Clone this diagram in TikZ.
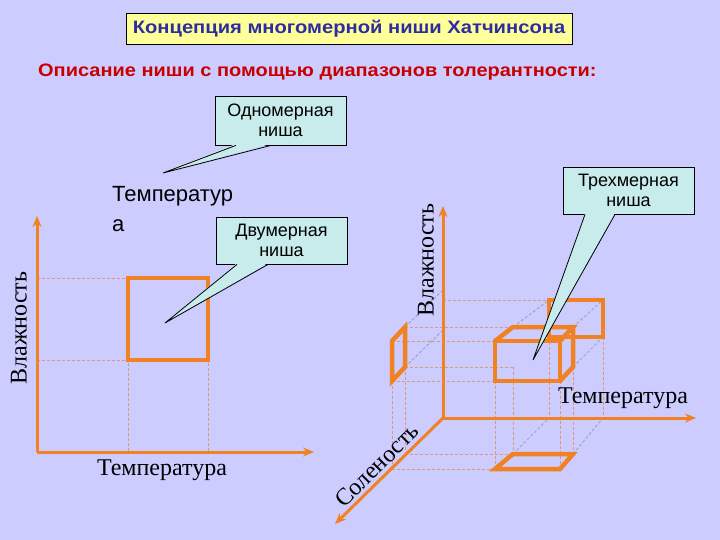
\documentclass[tikz,border=0pt]{standalone}
\usepackage{fontspec}
\setmainfont{Liberation Serif}
\setsansfont{Liberation Sans}
\usetikzlibrary{arrows.meta,calc}

\definecolor{lilac}{RGB}{204,204,255}
\definecolor{nicheorange}{RGB}{240,130,35}
\definecolor{guideorange}{RGB}{225,150,120}
\definecolor{guidegray}{RGB}{160,165,195}
\definecolor{calloutcyan}{RGB}{200,235,235}
\definecolor{titleblue}{RGB}{45,45,160}
\definecolor{subred}{RGB}{200,0,0}
\definecolor{titleyellow}{RGB}{255,255,153}

\tikzset{
  axis/.style={line width=3pt, nicheorange, -{Stealth[length=11pt,width=9pt]}},
  niche/.style={line width=4.5pt, nicheorange, line join=miter},
  guide/.style={guideorange, line width=0.8pt, dash pattern=on 3pt off 2pt},
  depth/.style={guidegray, line width=1pt, dash pattern=on 3pt off 2pt},
  callout/.style={draw=black, line width=0.8pt, fill=calloutcyan, align=center,
    font=\sffamily\fontsize{18}{20}\selectfont, inner sep=0pt,
    minimum width=131pt, minimum height=47pt},
  wedge/.style={line width=0.8pt},
  axislabel/.style={font=\fontsize{24}{24}\selectfont, inner sep=0pt},
}

\begin{document}
\begin{tikzpicture}[x=1pt, y=-1pt]
    % Background
    \fill[lilac] (0,0) rectangle (720,540);
    \useasboundingbox (0,0) rectangle (720,540);

    % Title and subtitle
    \node[draw=black, fill=titleyellow, line width=0.8pt, minimum width=446pt, minimum height=31pt,
      inner sep=0pt, text=titleblue, font=\sffamily\bfseries\fontsize{18}{18}\selectfont]
      (title) at (349,28.5) {\scalebox{1.12}[1]{Концепция многомерной ниши Хатчинсона}};
    \node[anchor=west, inner sep=0pt, text=subred, font=\sffamily\bfseries\fontsize{18}{18}\selectfont]
      (subtitle) at (38,72) {\scalebox{1.11}[1]{Описание ниши с помощью диапазонов толерантности:}};

    % Two-dimensional niche: guides
    \draw[guide] (37,278) -- (208,278);
    \draw[guide] (37,360) -- (128,360);
    \draw[guide] (128,278) -- (128,452);
    \draw[guide] (208,278) -- (208,452);

    % Two-dimensional niche: axes
    \coordinate (o2) at (37,452);
    \coordinate (hum2end) at (37,216);
    \coordinate (temp2end) at (314,452);
    \draw[axis] (o2) -- (hum2end);
    \draw[axis] (o2) -- (temp2end);
    \draw[niche] (128,278) rectangle (208,360);

    \node[axislabel, rotate=90] (hum2) at (19,328) {Влажность};
    \node[axislabel] (temp2) at (162,470) {Температура};
    \node[anchor=north west, align=left, inner sep=0pt, font=\sffamily\fontsize{22}{30}\selectfont]
      (templbl) at (112,186) {Температур\\а};

    % Three-dimensional niche: guides
    \draw[guide] (443,300) -- (549,300);
    \draw[guide] (405,327) -- (513,327);
    \draw[guide] (392,341) -- (495,341);
    \draw[guide] (405,367) -- (513,367);
    \draw[guide] (392,381) -- (495,381);
    \draw[guide] (405,454) -- (513,454);
    \draw[guide] (392,469) -- (495,469);
    \draw[guide] (392,381) -- (392,469);
    \draw[guide] (405,367) -- (405,454);
    \draw[guide] (495,381) -- (495,469);
    \draw[guide] (513,367) -- (513,454);
    \draw[guide] (560,381) -- (560,469);
    \draw[guide] (573,367) -- (573,454);
    \draw[guide] (549,337) -- (549,418);
    \draw[guide] (603,337) -- (603,418);

    % depth lines
    \draw[depth] (405,327) -- (443,290);
    \draw[depth] (405,367) -- (443,330);
    \draw[depth] (513,327) -- (549,300);
    \draw[depth] (573,327) -- (603,300);
    \draw[depth] (573,367) -- (603,337);
    \draw[depth] (513,454) -- (549,418);
    \draw[depth] (573,454) -- (603,418);

    % Three-dimensional niche: axes
    \coordinate (o3) at (443,418);
    \coordinate (hum3end) at (443,206);
    \coordinate (temp3end) at (696,418);
    \coordinate (sal3end) at (335,524);
    \draw[axis] (o3) -- (hum3end);
    \draw[axis] (o3) -- (temp3end);
    \draw[axis] (o3) -- (sal3end);

    % projections and the box
    \draw[niche] (549,300) rectangle (603,337);
    \draw[niche] (392,341) -- (405,327) -- (405,367) -- (392,381) -- cycle;
    \draw[niche] (495,469) -- (513,454) -- (573,454) -- (560,469) -- cycle;
    \draw[niche] (495,341) rectangle (560,381);
    \draw[niche] (495,341) -- (513,327) -- (573,327) -- (560,341);
    \draw[niche] (560,381) -- (573,367) -- (573,327);

    \node[axislabel, rotate=90] (hum3) at (426,260) {Влажность};
    \node[axislabel] (temp3) at (623,398) {Температура};
    \node[axislabel, rotate=45] (sal3) at (377,465) {Соленость};

    % Callouts
    \node[callout, minimum height=49pt] (onedim) at (280.5,120.5) {Одномерная\\ниша};
    \coordinate (onetip) at (163,173);
    \fill[calloutcyan] ($(onedim.south)+(-44.5,-1.5)$) -- (onetip) -- ($(onedim.south)+(-9.5,-1.5)$) -- cycle;
    \draw[wedge] ($(onedim.south)+(-44.5,0)$) -- (onetip) -- ($(onedim.south)+(-9.5,0)$);

    \node[callout] (twodim) at (281.5,240.5) {Двумерная\\ниша};
    \coordinate (twotip) at (165,323);
    \fill[calloutcyan] ($(twodim.south)+(-44.5,-1.5)$) -- (twotip) -- ($(twodim.south)+(-13.5,-1.5)$) -- cycle;
    \draw[wedge] ($(twodim.south)+(-44.5,0)$) -- (twotip) -- ($(twodim.south)+(-13.5,0)$);

    \node[callout] (threedim) at (628.5,190.5) {Трехмерная\\ниша};
    \coordinate (threetip) at (533,360);
    \fill[calloutcyan] ($(threedim.south)+(-43.5,-1.5)$) -- (threetip) -- ($(threedim.south)+(-13.5,-1.5)$) -- cycle;
    \draw[wedge] ($(threedim.south)+(-43.5,0)$) -- (threetip) -- ($(threedim.south)+(-13.5,0)$);
\end{tikzpicture}
\end{document}
